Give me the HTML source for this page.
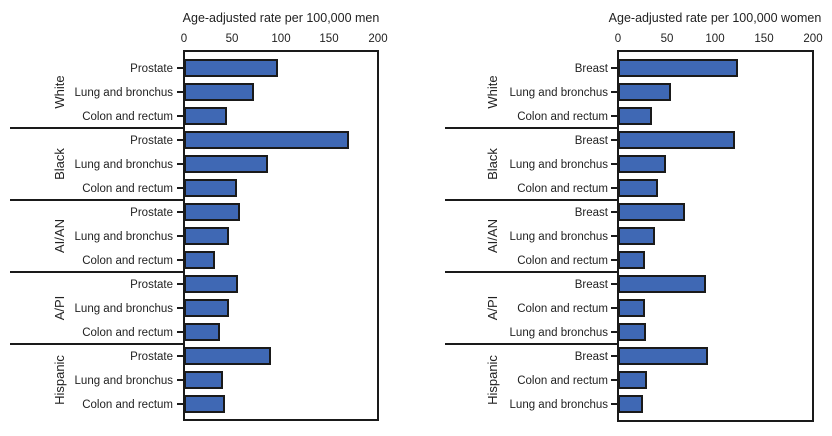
<!DOCTYPE html>
<html><head><meta charset="utf-8"><style>
html,body{margin:0;padding:0;background:#fff;}
svg{display:block;font-family:"Liberation Sans",sans-serif;}
.l{font-size:11.5px;fill:#222;text-anchor:end;}
.t{font-size:11.5px;fill:#222;text-anchor:middle;}
.g{font-size:13px;fill:#222;text-anchor:middle;}
.b{fill:#3f68b4;stroke:#1a1a1a;stroke-width:2;}
</style></head><body>
<svg width="832" height="436" viewBox="0 0 832 436">
<!-- LEFT PANEL -->
<text class="t" x="281" y="22" style="font-size:12.5px">Age-adjusted rate per 100,000 men</text>
<text class="t" x="184" y="42">0</text><text class="t" x="232" y="42">50</text><text class="t" x="281" y="42">100</text><text class="t" x="329" y="42">150</text><text class="t" x="378" y="42">200</text>
<rect x="184" y="51" width="194" height="369" fill="none" stroke="#1a1a1a" stroke-width="2"/>
<g stroke="#1a1a1a" stroke-width="2">
<line x1="10" y1="128" x2="184" y2="128"/><line x1="10" y1="200" x2="184" y2="200"/><line x1="10" y1="272" x2="184" y2="272"/><line x1="10" y1="344" x2="184" y2="344"/>
<line x1="177" y1="68" x2="184" y2="68"/><line x1="177" y1="92" x2="184" y2="92"/><line x1="177" y1="116" x2="184" y2="116"/><line x1="177" y1="140" x2="184" y2="140"/><line x1="177" y1="164" x2="184" y2="164"/><line x1="177" y1="188" x2="184" y2="188"/><line x1="177" y1="212" x2="184" y2="212"/><line x1="177" y1="236" x2="184" y2="236"/><line x1="177" y1="260" x2="184" y2="260"/><line x1="177" y1="284" x2="184" y2="284"/><line x1="177" y1="308" x2="184" y2="308"/><line x1="177" y1="332" x2="184" y2="332"/><line x1="177" y1="356" x2="184" y2="356"/><line x1="177" y1="380" x2="184" y2="380"/><line x1="177" y1="404" x2="184" y2="404"/>
</g>
<rect class="b" x="185" y="60" width="92" height="16"/>
<rect class="b" x="185" y="84" width="68" height="16"/>
<rect class="b" x="185" y="108" width="41" height="16"/>
<rect class="b" x="185" y="132" width="163" height="16"/>
<rect class="b" x="185" y="156" width="82" height="16"/>
<rect class="b" x="185" y="180" width="51" height="16"/>
<rect class="b" x="185" y="204" width="54" height="16"/>
<rect class="b" x="185" y="228" width="43" height="16"/>
<rect class="b" x="185" y="252" width="29" height="16"/>
<rect class="b" x="185" y="276" width="52" height="16"/>
<rect class="b" x="185" y="300" width="43" height="16"/>
<rect class="b" x="185" y="324" width="34" height="16"/>
<rect class="b" x="185" y="348" width="85" height="16"/>
<rect class="b" x="185" y="372" width="37" height="16"/>
<rect class="b" x="185" y="396" width="39" height="16"/>
<text class="l" x="173" y="72">Prostate</text>
<text class="l" x="173" y="96">Lung and bronchus</text>
<text class="l" x="173" y="120">Colon and rectum</text>
<text class="l" x="173" y="144">Prostate</text>
<text class="l" x="173" y="168">Lung and bronchus</text>
<text class="l" x="173" y="192">Colon and rectum</text>
<text class="l" x="173" y="216">Prostate</text>
<text class="l" x="173" y="240">Lung and bronchus</text>
<text class="l" x="173" y="264">Colon and rectum</text>
<text class="l" x="173" y="288">Prostate</text>
<text class="l" x="173" y="312">Lung and bronchus</text>
<text class="l" x="173" y="336">Colon and rectum</text>
<text class="l" x="173" y="360">Prostate</text>
<text class="l" x="173" y="384">Lung and bronchus</text>
<text class="l" x="173" y="408">Colon and rectum</text>
<text class="g" transform="translate(64,92) rotate(-90)">White</text>
<text class="g" transform="translate(64,164) rotate(-90)">Black</text>
<text class="g" transform="translate(64,236) rotate(-90)">AI/AN</text>
<text class="g" transform="translate(64,308) rotate(-90)">A/PI</text>
<text class="g" transform="translate(64,380) rotate(-90)">Hispanic</text>

<!-- RIGHT PANEL -->
<text class="t" x="715" y="22" style="font-size:12.5px">Age-adjusted rate per 100,000 women</text>
<text class="t" x="618" y="42">0</text><text class="t" x="667" y="42">50</text><text class="t" x="715" y="42">100</text><text class="t" x="764" y="42">150</text><text class="t" x="813" y="42">200</text>
<rect x="618" y="51" width="195" height="370" fill="none" stroke="#1a1a1a" stroke-width="2"/>
<g stroke="#1a1a1a" stroke-width="2">
<line x1="445" y1="128" x2="618" y2="128"/><line x1="445" y1="200" x2="618" y2="200"/><line x1="445" y1="272" x2="618" y2="272"/><line x1="445" y1="344" x2="618" y2="344"/>
<line x1="611" y1="68" x2="618" y2="68"/><line x1="611" y1="92" x2="618" y2="92"/><line x1="611" y1="116" x2="618" y2="116"/><line x1="611" y1="140" x2="618" y2="140"/><line x1="611" y1="164" x2="618" y2="164"/><line x1="611" y1="188" x2="618" y2="188"/><line x1="611" y1="212" x2="618" y2="212"/><line x1="611" y1="236" x2="618" y2="236"/><line x1="611" y1="260" x2="618" y2="260"/><line x1="611" y1="284" x2="618" y2="284"/><line x1="611" y1="308" x2="618" y2="308"/><line x1="611" y1="332" x2="618" y2="332"/><line x1="611" y1="356" x2="618" y2="356"/><line x1="611" y1="380" x2="618" y2="380"/><line x1="611" y1="404" x2="618" y2="404"/>
</g>
<rect class="b" x="619" y="60" width="118" height="16"/>
<rect class="b" x="619" y="84" width="51" height="16"/>
<rect class="b" x="619" y="108" width="32" height="16"/>
<rect class="b" x="619" y="132" width="115" height="16"/>
<rect class="b" x="619" y="156" width="46" height="16"/>
<rect class="b" x="619" y="180" width="38" height="16"/>
<rect class="b" x="619" y="204" width="65" height="16"/>
<rect class="b" x="619" y="228" width="35" height="16"/>
<rect class="b" x="619" y="252" width="25" height="16"/>
<rect class="b" x="619" y="276" width="86" height="16"/>
<rect class="b" x="619" y="300" width="25" height="16"/>
<rect class="b" x="619" y="324" width="26" height="16"/>
<rect class="b" x="619" y="348" width="88" height="16"/>
<rect class="b" x="619" y="372" width="27" height="16"/>
<rect class="b" x="619" y="396" width="23" height="16"/>
<text class="l" x="608" y="72">Breast</text>
<text class="l" x="608" y="96">Lung and bronchus</text>
<text class="l" x="608" y="120">Colon and rectum</text>
<text class="l" x="608" y="144">Breast</text>
<text class="l" x="608" y="168">Lung and bronchus</text>
<text class="l" x="608" y="192">Colon and rectum</text>
<text class="l" x="608" y="216">Breast</text>
<text class="l" x="608" y="240">Lung and bronchus</text>
<text class="l" x="608" y="264">Colon and rectum</text>
<text class="l" x="608" y="288">Breast</text>
<text class="l" x="608" y="312">Colon and rectum</text>
<text class="l" x="608" y="336">Lung and bronchus</text>
<text class="l" x="608" y="360">Breast</text>
<text class="l" x="608" y="384">Colon and rectum</text>
<text class="l" x="608" y="408">Lung and bronchus</text>
<text class="g" transform="translate(497,92) rotate(-90)">White</text>
<text class="g" transform="translate(497,164) rotate(-90)">Black</text>
<text class="g" transform="translate(497,236) rotate(-90)">AI/AN</text>
<text class="g" transform="translate(497,308) rotate(-90)">A/PI</text>
<text class="g" transform="translate(497,380) rotate(-90)">Hispanic</text>
</svg>
</body></html>
